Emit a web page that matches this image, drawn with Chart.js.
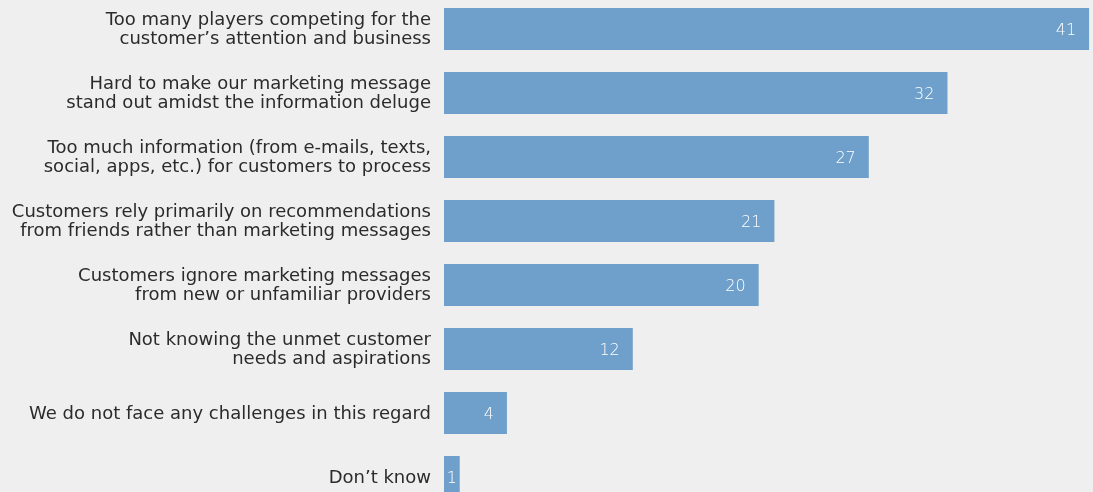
<!DOCTYPE html>
<html>
<head>
<meta charset="utf-8">
<script src="https://cdn.jsdelivr.net/npm/chart.js@4"></script>
<style>
  html, body { margin: 0; padding: 0; background: #eeefee; overflow: hidden; }
  #wrap { position: absolute; left: 0; top: -3px; width: 1093px; height: 512px; }
</style>
</head>
<body>
<div id="wrap"><canvas id="barChart"></canvas></div>
<script>
// Category labels (each line of a label is one entry)
const categories = [
    ["Too many players competing for the", "customer\u2019s attention and business"],
    ["Hard to make our marketing message", "stand out amidst the information deluge"],
    ["Too much information (from e-mails, texts,", "social, apps, etc.) for customers to process"],
    ["Customers rely primarily on recommendations", "from friends rather than marketing messages"],
    ["Customers ignore marketing messages", "from new or unfamiliar providers"],
    ["Not knowing the unmet customer", "needs and aspirations"],
    ["We do not face any challenges in this regard"],
    ["Don\u2019t know"]
];

// Share of respondents
const values = [41, 32, 27, 21, 20, 12, 4, 1];

const labelFont = "'DejaVu Sans', sans-serif";

// Category text to the left of the bars, right aligned
const categoryLabels = {
    id: 'categoryLabels',
    afterDraw(chart) {
        const ctx = chart.ctx;
        const yScale = chart.scales.y;
        const right = chart.chartArea.left - 13;
        const lineHeight = 19;
        ctx.save();
        ctx.fillStyle = '#2b2b2b';
        ctx.font = '18px ' + labelFont;
        ctx.textAlign = 'right';
        ctx.textBaseline = 'middle';
        categories.forEach((lines, i) => {
            const cy = yScale.getPixelForValue(i);
            const top = cy - (lines.length - 1) * lineHeight / 2;
            lines.forEach((line, j) => {
                ctx.fillText(line, right, top + j * lineHeight + 1);
            });
        });
        ctx.restore();
    }
};

// Write the value inside the end of each bar
const valueLabels = {
    id: 'valueLabels',
    afterDatasetsDraw(chart) {
        const ctx = chart.ctx;
        const meta = chart.getDatasetMeta(0);
        ctx.save();
        ctx.fillStyle = '#ffffff';
        ctx.font = '200 16px ' + labelFont;
        ctx.textBaseline = 'middle';
        meta.data.forEach((bar, i) => {
            let x = bar.x - 13;
            if (values[i] < 3) {
                ctx.textAlign = 'center';
                x = (bar.x + bar.base) / 2;
            } else {
                ctx.textAlign = 'right';
            }
            ctx.fillText(String(values[i]), x, bar.y + 2);
        });
        ctx.restore();
    }
};

const ctx = document.getElementById('barChart').getContext('2d');
new Chart(ctx, {
    type: 'bar',
    data: {
        labels: categories.map(c => c.join(' ')),
        datasets: [{
            data: values,
            backgroundColor: '#6fa0cb',
            borderWidth: 0,
            barPercentage: 0.656,
            categoryPercentage: 1
        }]
    },
    options: {
        indexAxis: 'y',
        responsive: true,
        maintainAspectRatio: false,
        animation: false,
        layout: { padding: { left: 444, right: 0, top: 0, bottom: 0 } },
        plugins: {
            legend: { display: false },
            tooltip: { enabled: false }
        },
        scales: {
            x: {
                display: false,
                min: 0,
                max: 41.25
            },
            y: {
                display: false
            }
        }
    },
    plugins: [categoryLabels, valueLabels]
});
</script>
</body>
</html>
